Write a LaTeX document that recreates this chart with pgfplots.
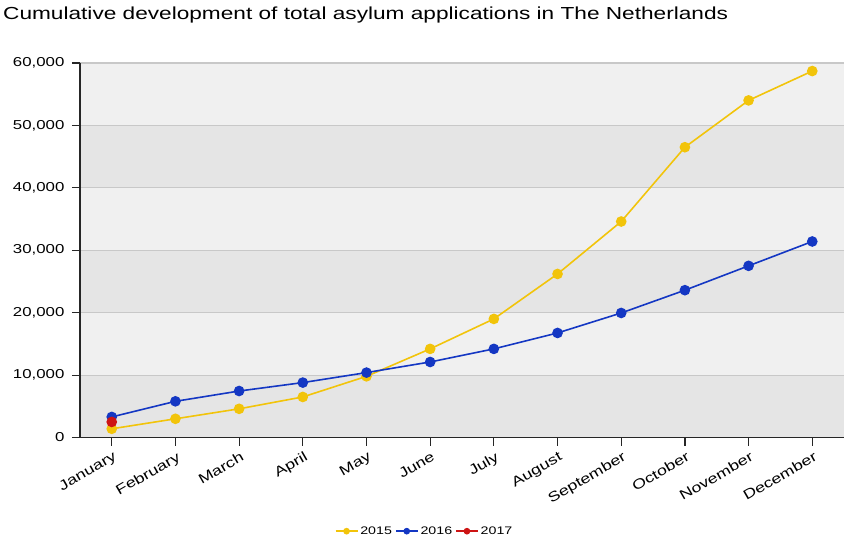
\documentclass[border=0pt]{standalone}
\usepackage{pgfplots}
\pgfplotsset{compat=1.18}
\usepackage{fontspec}
\setmainfont{Liberation Sans}[FakeStretch=1.3]
\definecolor{yel}{RGB}{242,196,10}
\definecolor{blu}{RGB}{20,55,195}
\definecolor{rd}{RGB}{205,20,20}
\definecolor{bglight}{RGB}{240,240,240}
\definecolor{bgdark}{RGB}{229,229,229}
\definecolor{gridc}{RGB}{200,200,200}
\begin{document}
\begin{tikzpicture}
\begin{axis}[
  set layers,
  at={(0,0)}, anchor=south west,
  scale only axis, width=765bp, height=375bp,
  xmin=-0.5, xmax=11.5, ymin=0, ymax=60000,
  axis background/.style={fill=bglight},
  xtick={0,...,11},
  xticklabels={January,February,March,April,May,June,July,August,September,October,November,December},
  xticklabel style={rotate=30, anchor=north east, font=\fontsize{13.8}{16}\selectfont, inner sep=2pt, yshift=-3bp},
  ytick={0,10000,20000,30000,40000,50000,60000},
  scaled y ticks=false,
  /pgf/number format/assume math mode=true,
  /pgf/number format/1000 sep={,},
  yticklabel style={font=\fontsize{13}{15}\selectfont, xshift=-4bp},
  axis x line*=bottom, axis y line*=left,
  axis line style={line width=1.8bp, color=black!85, -},
  tick align=outside, major tick length=8bp,
  tick style={black!85, line width=1.2bp},
  ymajorgrids, grid style={line width=1.2bp, color=gridc},
  legend columns=-1,
  legend style={at={(0.451,-0.25)}, anchor=center, draw=none, fill=none,
    font=\fontsize{11}{13}\selectfont, inner sep=0pt,
    /tikz/every even column/.append style={column sep=1pt}},
  legend image code/.code={\draw[mark size=2.5bp, mark repeat=2, mark phase=2] plot coordinates {(0bp,0bp)(11bp,0bp)(22bp,0bp)};},
]
\addplot[forget plot, on layer=axis background, fill=bgdark, draw=none, mark=none]
  coordinates {(-0.5,0)(11.5,0)(11.5,10000)(-0.5,10000)} -- cycle;
\addplot[forget plot, on layer=axis background, fill=bgdark, draw=none, mark=none]
  coordinates {(-0.5,20000)(11.5,20000)(11.5,30000)(-0.5,30000)} -- cycle;
\addplot[forget plot, on layer=axis background, fill=bgdark, draw=none, mark=none]
  coordinates {(-0.5,40000)(11.5,40000)(11.5,50000)(-0.5,50000)} -- cycle;
\addplot[color=yel, line width=1.6bp, mark=*, mark size=4.5bp, mark options={fill=yel, draw=yel}]
  coordinates {(0,1400)(1,3000)(2,4600)(3,6500)(4,9800)(5,14200)(6,19000)(7,26200)(8,34600)(9,46500)(10,54000)(11,58700)};
\addlegendentry{2015}
\addplot[color=blu, line width=1.6bp, mark=*, mark size=4.5bp, mark options={fill=blu, draw=blu}]
  coordinates {(0,3300)(1,5800)(2,7450)(3,8800)(4,10400)(5,12100)(6,14200)(7,16750)(8,19950)(9,23600)(10,27500)(11,31400)};
\addlegendentry{2016}
\addplot[color=rd, line width=1.6bp, mark=*, mark size=4.5bp, mark options={fill=rd, draw=rd}]
  coordinates {(0,2500)};
\addlegendentry{2017}
\end{axis}
\node[anchor=base west, inner sep=0pt, font=\fontsize{17.5}{20}\selectfont] at (-77bp,418bp) {Cumulative development of total asylum applications in The Netherlands};
\useasboundingbox (-80bp,-107bp) rectangle (765bp,438bp);
\end{tikzpicture}
\end{document}
